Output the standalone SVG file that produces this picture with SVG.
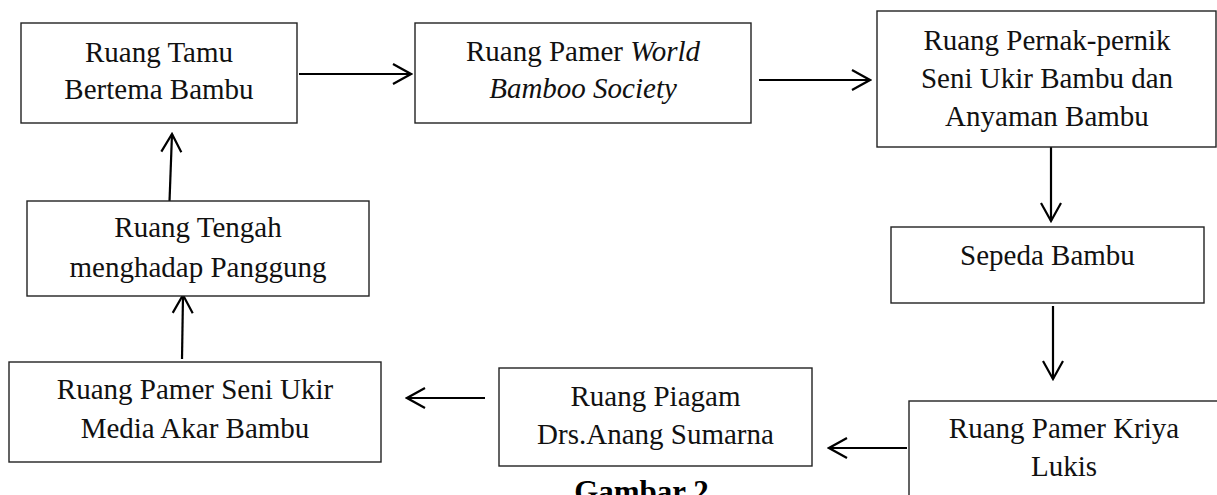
<svg xmlns="http://www.w3.org/2000/svg" width="1217" height="495" viewBox="0 0 1217 495">
<style>
.box{fill:#fff;stroke:#222;stroke-width:1.4}
.t{font-family:"Liberation Serif","Times New Roman",serif;font-size:29px;fill:#111;text-anchor:middle}
.c{fill:none;stroke:#000;stroke-width:2.2}
.cap{font-family:"Liberation Serif","Times New Roman",serif;font-size:31px;font-weight:bold;fill:#000;text-anchor:middle}
</style>
<defs>
<marker id="arr" viewBox="0 0 22 24" refX="20" refY="12" markerWidth="22" markerHeight="24" markerUnits="userSpaceOnUse" orient="auto">
<path d="M2,2 L20,12 L2,22" fill="none" stroke="#000" stroke-width="2.2"/>
</marker>
</defs>
<rect width="1217" height="495" fill="#fff"/>
<g id="connectors">
<path class="c" d="M299,74 L411,74" marker-end="url(#arr)"/>
<path class="c" d="M759,80 L870,80" marker-end="url(#arr)"/>
<path class="c" d="M1051,147 L1051,221" marker-end="url(#arr)"/>
<path class="c" d="M1053,306 L1053,379" marker-end="url(#arr)"/>
<path class="c" d="M907,448 L829,448" marker-end="url(#arr)"/>
<path class="c" d="M485,398 L407,398" marker-end="url(#arr)"/>
<path class="c" d="M182,359 L183,295" marker-end="url(#arr)"/>
<path class="c" d="M169,215 L172,134" marker-end="url(#arr)"/>
</g>
<g id="n1">
<rect class="box" x="21" y="23" width="276" height="100"/>
<text class="t" x="159" y="62">Ruang Tamu</text>
<text class="t" x="159" y="99">Bertema Bambu</text>
</g>
<g id="n2">
<rect class="box" x="415" y="23" width="336" height="100"/>
<text class="t" x="583" y="61">Ruang Pamer <tspan font-style="italic">World</tspan></text>
<text class="t" x="583" y="98" font-style="italic">Bamboo Society</text>
</g>
<g id="n3">
<rect class="box" x="877" y="11" width="339" height="136"/>
<text class="t" x="1047" y="50">Ruang Pernak-pernik</text>
<text class="t" x="1047" y="88">Seni Ukir Bambu dan</text>
<text class="t" x="1047" y="126">Anyaman Bambu</text>
</g>
<g id="n4">
<rect class="box" x="891" y="227" width="313" height="76"/>
<text class="t" x="1047.5" y="265">Sepeda Bambu</text>
</g>
<g id="n5">
<rect class="box" x="909" y="401" width="312" height="120"/>
<text class="t" x="1064" y="438">Ruang Pamer Kriya</text>
<text class="t" x="1064" y="476">Lukis</text>
</g>
<g id="n6">
<rect class="box" x="499" y="368" width="313" height="98"/>
<text class="t" x="655.5" y="406">Ruang Piagam</text>
<text class="t" x="655.5" y="444">Drs.Anang Sumarna</text>
</g>
<g id="n7">
<rect class="box" x="9" y="362" width="372" height="100"/>
<text class="t" x="195" y="399">Ruang Pamer Seni Ukir</text>
<text class="t" x="195" y="438">Media Akar Bambu</text>
</g>
<g id="n8">
<rect class="box" x="27" y="201" width="342" height="95"/>
<text class="t" x="198" y="237">Ruang Tengah</text>
<text class="t" x="198" y="277">menghadap Panggung</text>
</g>
<text class="cap" x="641.5" y="502">Gambar 2</text>
</svg>
